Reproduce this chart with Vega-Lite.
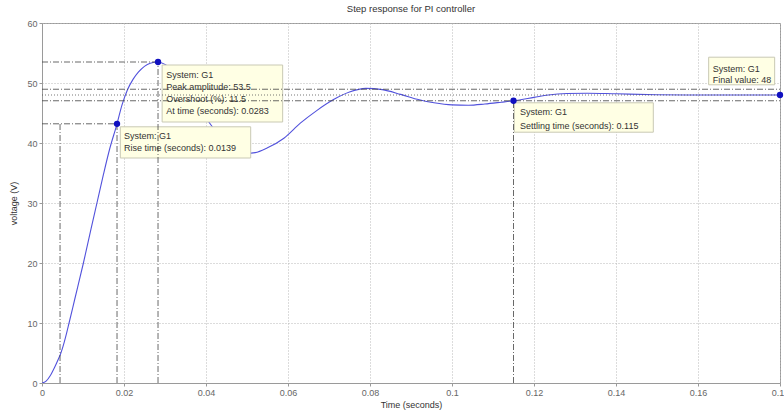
{
  "$schema": "https://vega.github.io/schema/vega-lite/v6.json",
  "width": 738,
  "height": 360,
  "autosize": {"type": "none"},
  "padding": {"left": 42, "top": 23, "right": 4, "bottom": 29},
  "background": "white",
  "title": {"text": "Step response for PI controller", "fontSize": 9.5, "fontWeight": "normal", "font": "Liberation Sans", "color": "#333", "offset": 6},
  "config": {
    "view": {"stroke": "#9a9a9a", "strokeWidth": 1},
    "axis": {
      "labelFont": "Liberation Sans", "titleFont": "Liberation Sans",
      "labelFontSize": 9, "titleFontSize": 9, "titleFontWeight": "normal",
      "labelColor": "#666", "titleColor": "#333",
      "domainColor": "#9a9a9a", "tickColor": "#9a9a9a", "tickSize": 3,
      "gridColor": "#b8b8b8", "gridDash": [1, 2], "gridWidth": 1, "gridOpacity": 1
    }
  },
  "datasets": {
    "curve": [
      {"t": 0, "v": 0}, {"t": 0.001, "v": 0.3}, {"t": 0.002, "v": 1.2}, {"t": 0.003, "v": 2.5},
      {"t": 0.004, "v": 4.0}, {"t": 0.0045, "v": 4.8}, {"t": 0.005, "v": 5.8}, {"t": 0.006, "v": 8.3},
      {"t": 0.0066, "v": 10}, {"t": 0.008, "v": 14}, {"t": 0.0101, "v": 20}, {"t": 0.012, "v": 25.8},
      {"t": 0.0134, "v": 30}, {"t": 0.015, "v": 34.8}, {"t": 0.0165, "v": 39}, {"t": 0.0183, "v": 43.2},
      {"t": 0.0195, "v": 46.3}, {"t": 0.0208, "v": 48.8}, {"t": 0.0222, "v": 50.6}, {"t": 0.0235, "v": 51.8},
      {"t": 0.0264, "v": 53.3}, {"t": 0.0283, "v": 53.5}, {"t": 0.030, "v": 53.1}, {"t": 0.034, "v": 50.8},
      {"t": 0.037, "v": 47.9}, {"t": 0.041, "v": 43.2}, {"t": 0.044, "v": 40.6}, {"t": 0.047, "v": 38.8},
      {"t": 0.05, "v": 38.3}, {"t": 0.052, "v": 38.4}, {"t": 0.055, "v": 39.2}, {"t": 0.059, "v": 40.8},
      {"t": 0.063, "v": 43.3}, {"t": 0.067, "v": 45.4}, {"t": 0.071, "v": 47.2}, {"t": 0.075, "v": 48.5},
      {"t": 0.079, "v": 49.1}, {"t": 0.083, "v": 48.9}, {"t": 0.0875, "v": 48.1}, {"t": 0.092, "v": 47.2},
      {"t": 0.0956, "v": 46.7}, {"t": 0.1, "v": 46.35}, {"t": 0.104, "v": 46.3}, {"t": 0.108, "v": 46.5},
      {"t": 0.112, "v": 46.8}, {"t": 0.115, "v": 47.04}, {"t": 0.12, "v": 47.6}, {"t": 0.1235, "v": 48.0},
      {"t": 0.128, "v": 48.25}, {"t": 0.133, "v": 48.3}, {"t": 0.14, "v": 48.2}, {"t": 0.15, "v": 48.05},
      {"t": 0.16, "v": 48.0}, {"t": 0.17, "v": 48.0}, {"t": 0.18, "v": 48.0}
    ],
    "refs": [
      {"x": 0, "x2": 0.0283, "y": 53.5, "y2": 53.5, "style": "dashdot"},
      {"x": 0.0283, "x2": 0.0283, "y": 0, "y2": 53.5, "style": "dashdot"},
      {"x": 0, "x2": 0.0183, "y": 43.2, "y2": 43.2, "style": "dashdot"},
      {"x": 0.0183, "x2": 0.0183, "y": 0, "y2": 43.2, "style": "dashdot"},
      {"x": 0.0044, "x2": 0.0044, "y": 0, "y2": 43.2, "style": "dashdot"},
      {"x": 0.115, "x2": 0.115, "y": 0, "y2": 47.04, "style": "dashdot"},
      {"x": 0, "x2": 0.18, "y": 48.96, "y2": 48.96, "style": "dashdot"},
      {"x": 0, "x2": 0.18, "y": 47.04, "y2": 47.04, "style": "dashdot"},
      {"x": 0, "x2": 0.18, "y": 48, "y2": 48, "style": "dotted"}
    ],
    "boxes": [
      {"x": 0.0293, "x2": 0.0587, "y": 53.0, "y2": 43.5},
      {"x": 0.0191, "x2": 0.0509, "y": 42.7, "y2": 37.5},
      {"x": 0.1152, "x2": 0.1491, "y": 46.7, "y2": 41.8},
      {"x": 0.1626, "x2": 0.1787, "y": 54.3, "y2": 49.7}
    ],
    "labels": [
      {"x": 0.0303, "y": 51.3, "text": "System: G1"},
      {"x": 0.0303, "y": 49.3, "text": "Peak amplitude: 53.5"},
      {"x": 0.0303, "y": 47.3, "text": "Overshoot (%): 11.5"},
      {"x": 0.0303, "y": 45.3, "text": "At time (seconds): 0.0283"},
      {"x": 0.02, "y": 41.2, "text": "System: G1"},
      {"x": 0.02, "y": 39.2, "text": "Rise time (seconds): 0.0139"},
      {"x": 0.1166, "y": 45.2, "text": "System: G1"},
      {"x": 0.1166, "y": 42.9, "text": "Settling time (seconds): 0.115"},
      {"x": 0.1636, "y": 52.4, "text": "System: G1"},
      {"x": 0.1636, "y": 50.5, "text": "Final value: 48"}
    ],
    "points": [
      {"t": 0.0183, "v": 43.2}, {"t": 0.0283, "v": 53.5}, {"t": 0.115, "v": 47.04}, {"t": 0.18, "v": 48}
    ]
  },
  "layer": [
    {
      "data": {"name": "curve"},
      "mark": {"type": "line", "color": "#5252dc", "strokeWidth": 1.1, "interpolate": "monotone", "clip": true},
      "encoding": {
        "x": {"field": "t", "type": "quantitative", "scale": {"domain": [0, 0.18], "nice": false},
          "axis": {"values": [0, 0.02, 0.04, 0.06, 0.08, 0.1, 0.12, 0.14, 0.16, 0.18], "format": "~g", "grid": true, "title": "Time (seconds)", "labelPadding": 2, "titlePadding": 3, "labelFlush": false}},
        "y": {"field": "v", "type": "quantitative", "scale": {"domain": [0, 60], "nice": false},
          "axis": {"values": [0, 10, 20, 30, 40, 50, 60], "grid": true, "title": "voltage (V)", "labelPadding": 2, "titlePadding": 8}}
      }
    },
    {
      "data": {"name": "boxes"},
      "mark": {"type": "rect", "fill": "#ffffe4", "stroke": "#c9c9b4", "strokeWidth": 1},
      "encoding": {
        "x": {"field": "x", "type": "quantitative"},
        "x2": {"field": "x2"},
        "y": {"field": "y", "type": "quantitative"},
        "y2": {"field": "y2"}
      }
    },
    {
      "data": {"name": "refs"},
      "transform": [{"filter": "datum.style == 'dashdot'"}],
      "mark": {"type": "rule", "color": "#444", "strokeWidth": 1, "strokeDash": [6, 2, 1, 2], "opacity": 0.8},
      "encoding": {
        "x": {"field": "x", "type": "quantitative"},
        "x2": {"field": "x2"},
        "y": {"field": "y", "type": "quantitative"},
        "y2": {"field": "y2"}
      }
    },
    {
      "data": {"name": "refs"},
      "transform": [{"filter": "datum.style == 'dotted'"}],
      "mark": {"type": "rule", "color": "#555", "strokeWidth": 1, "strokeDash": [1, 2], "opacity": 0.8},
      "encoding": {
        "x": {"field": "x", "type": "quantitative"},
        "x2": {"field": "x2"},
        "y": {"field": "y", "type": "quantitative"},
        "y2": {"field": "y2"}
      }
    },
    {
      "data": {"name": "labels"},
      "mark": {"type": "text", "align": "left", "baseline": "middle", "font": "Liberation Sans", "fontSize": 9, "color": "#333"},
      "encoding": {
        "x": {"field": "x", "type": "quantitative"},
        "y": {"field": "y", "type": "quantitative"},
        "text": {"field": "text"}
      }
    },
    {
      "data": {"name": "points"},
      "mark": {"type": "point", "filled": true, "color": "#1010c0", "size": 40, "opacity": 1, "clip": false},
      "encoding": {
        "x": {"field": "t", "type": "quantitative"},
        "y": {"field": "v", "type": "quantitative"}
      }
    }
  ]
}
